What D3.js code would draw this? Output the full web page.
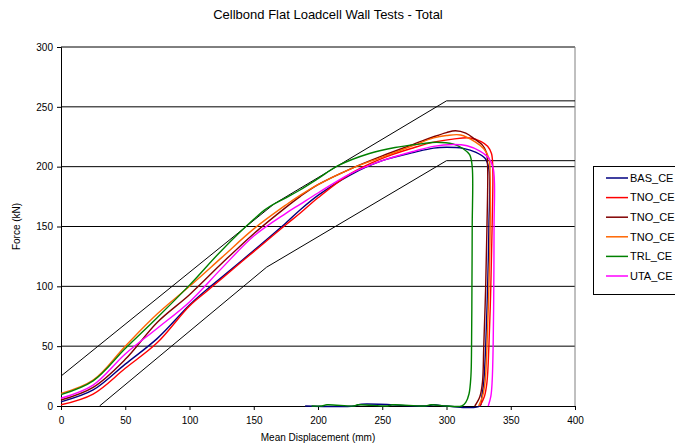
<!DOCTYPE html>
<html><head><meta charset="utf-8">
<script src="https://cdn.jsdelivr.net/npm/d3@7/dist/d3.min.js"></script>
<style>body{margin:0;background:#fff;overflow:hidden}svg{display:block}text{font-family:"Liberation Sans",Arial,sans-serif}</style>
</head><body><svg id="c" width="675" height="446"></svg>
<script>
const title = "Cellbond Flat Loadcell Wall Tests - Total";
const xLabel = "Mean Displacement (mm)";
const yLabel = "Force (kN)";
const xTicks = [0,50,100,150,200,250,300,350,400];
const yTicks = [0,50,100,150,200,250,300];
const seriesNames = ["BAS_CE","TNO_CE","TNO_CE","TNO_CE","TRL_CE","UTA_CE"];
const seriesColors = ["#000080","#FF0000","#800000","#FF6600","#008000","#FF00FF"];

const corridorUpper = [[0,25],[166,169],[300,255],[400,255]];
const corridorLower = [[30,0],[160,116],[300,205],[400,205]];

const basData = [[0,3.5],[25,13.4],[50,35],[75,56.5],[100,84.4],[113,96.9],[125,107.5],[150,130],[175,153],[186,163.8],[200,176],[225,193],[250,205],[275,212],[290,215.5],[300,216.2],[313,215.3],[323,212],[330,207],[333,198],[333,150],[332,100],[330.5,50],[329,20],[327.5,8],[326,0],[300,0],[290,1],[284,0],[234,1.5],[228,0],[190,0]];
const tno1Data = [[0,1],[25,10],[50,31.5],[75,53],[100,83.6],[114.6,96.9],[125,106.4],[150,129],[175,151.5],[186,161],[200,174],[225,194],[250,207],[275,216],[290,220.5],[305,223],[318,224],[327,221],[332,217],[335,211],[336,200],[335.5,150],[334.5,100],[333,50],[331.5,20],[329.5,8],[326,0]];
const tno2Data = [[0,5],[25,15.6],[50,39],[75,70],[100,93],[125,119],[150,144],[175,166],[186,175],[200,185],[225,198],[250,209],[275,219],[290,225],[300,228.5],[307,230],[315,228],[322,223],[328,218],[331,212],[332,200],[331.5,150],[330.5,100],[329,50],[328,20],[326,8],[322,0]];
const tno3Data = [[0,10.5],[25,21.7],[50,50],[75,77],[100,100],[125,124],[150,148],[175,168],[186,176],[200,185],[225,198],[250,208],[275,218],[290,224],[300,226],[311,226.5],[322,221],[329,215],[333,207],[334,190],[334,150],[333,100],[331.5,50],[330,20],[328,8],[325,0]];
const trlData = [[0,9.5],[25,21],[50,48],[75,74],[100,101],[125,130],[150,156],[160,165],[175,174],[186,180.5],[200,190],[216,201],[240,211],[260,216],[280,219],[292,220.4],[305,219],[313,215],[318,210],[320,200],[320,150],[319.8,100],[319.5,50],[319,25],[317.5,10],[315,3],[312,0],[300,0],[288,1],[283,0],[258,1],[254,0],[231,1],[228,0],[207,1],[203,0],[195,0]];
const utaData = [[0,6.5],[25,17.5],[50,43.5],[75,65],[100,87],[125,115],[150,142],[175,161],[186,168.5],[200,178],[225,194],[250,205],[275,213],[290,217],[305,218.5],[316,217.5],[326,213],[333,207],[336.5,198],[337,150],[336.8,100],[336.3,50],[335.5,20],[334.5,8],[332.5,0]];

const seriesData = [basData,tno1Data,tno2Data,tno3Data,trlData,utaData];

const svg = d3.select("#c");
const L=61,R=575,T=47,B=406;
const x = d3.scaleLinear().domain([0,400]).range([L,R]);
const y = d3.scaleLinear().domain([0,300]).range([B,T]);

svg.append("text").attr("x",328).attr("y",19).attr("text-anchor","middle").attr("font-size",13).text(title);

// gridlines
svg.append("g").selectAll("line").data(yTicks.filter(d=>d>0)).join("line")
  .attr("x1",L).attr("x2",R).attr("y1",d=>y(d)).attr("y2",d=>y(d))
  .attr("stroke","#000").attr("stroke-width",1);
// right border
svg.append("line").attr("x1",R).attr("x2",R).attr("y1",T).attr("y2",B).attr("stroke","#808080").attr("stroke-width",1);

// axes
const xAxis = d3.axisBottom(x).tickValues(xTicks).tickSize(4).tickPadding(7);
const yAxis = d3.axisLeft(y).tickValues(yTicks).tickSize(4).tickPadding(4);
const gx = svg.append("g").attr("transform",`translate(0,${B})`).call(xAxis);
const gy = svg.append("g").attr("transform",`translate(${L},0)`).call(yAxis);
[gx,gy].forEach(g=>{
  g.select(".domain").attr("stroke","#000");
  g.selectAll(".tick line").attr("stroke","#000");
  g.selectAll("text").attr("font-size",10).attr("fill","#000").attr("font-family","'Liberation Sans',Arial,sans-serif");
});

svg.append("text").attr("x",318).attr("y",441).attr("text-anchor","middle").attr("font-size",10).text(xLabel);
svg.append("text").attr("transform",`translate(20,${(T+B)/2}) rotate(-90)`).attr("text-anchor","middle").attr("font-size",10).text(yLabel);

const lineGen = d3.line().x(d=>x(d[0])).y(d=>y(d[1]));
const smoothGen = d3.line().x(d=>x(d[0])).y(d=>y(d[1])).curve(d3.curveCatmullRom.alpha(0.5));

// corridors
[corridorUpper,corridorLower].forEach(c=>{
  svg.append("path").attr("d",lineGen(c)).attr("fill","none").attr("stroke","#000").attr("stroke-width",1);
});

seriesData.forEach((s,i)=>{
  svg.append("path").attr("d",smoothGen(s)).attr("fill","none").attr("stroke",seriesColors[i]).attr("stroke-width",1.4).attr("stroke-linejoin","round");
});

// legend
const lg = svg.append("g");
lg.append("rect").attr("x",593.5).attr("y",166.5).attr("width",120).attr("height",128).attr("fill","#fff").attr("stroke","#000").attr("stroke-width",1);
seriesNames.forEach((n,i)=>{
  const yy = 178 + i*19.6;
  lg.append("line").attr("x1",606).attr("x2",628).attr("y1",yy).attr("y2",yy).attr("stroke",seriesColors[i]).attr("stroke-width",1.5);
  lg.append("text").attr("x",630).attr("y",yy).attr("dy","0.35em").attr("font-size",11).text(n);
});
</script></body></html>
